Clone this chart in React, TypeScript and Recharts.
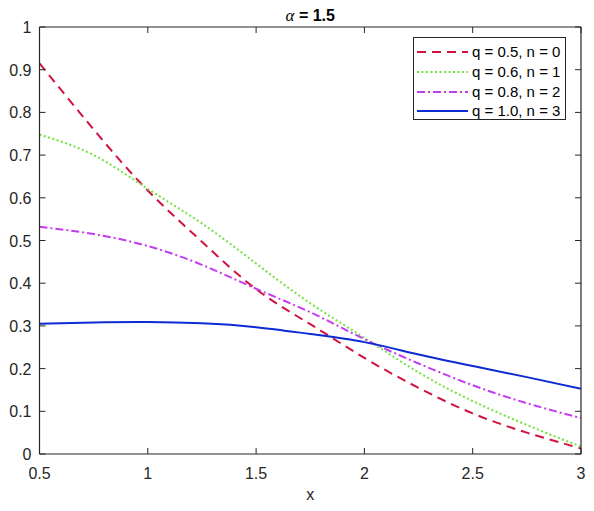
import React from 'react';
import { LineChart, Line, XAxis, YAxis, Legend, Label } from 'recharts';

const X_VALUES = [0.5, 0.75, 1, 1.25, 1.5, 1.75, 2, 2.25, 2.5, 2.75, 3];
const Q05_N0 = [0.915, 0.76, 0.617, 0.497, 0.386, 0.304, 0.225, 0.155, 0.095, 0.05, 0.013];
const Q06_N1 = [0.748, 0.7, 0.621, 0.54, 0.446, 0.353, 0.272, 0.191, 0.124, 0.068, 0.017];
const Q08_N2 = [0.532, 0.515, 0.487, 0.443, 0.387, 0.332, 0.269, 0.212, 0.161, 0.119, 0.084];
const Q10_N3 = [0.305, 0.308, 0.309, 0.306, 0.297, 0.281, 0.262, 0.233, 0.206, 0.18, 0.153];

const SERIES_NAMES = ['q = 0.5, n = 0', 'q = 0.6, n = 1', 'q = 0.8, n = 2', 'q = 1.0, n = 3'];
const SERIES_KEYS = ['s0', 's1', 's2', 's3'];

const X_TICKS = [0.5, 1, 1.5, 2, 2.5, 3];
const Y_TICKS = [0, 0.1, 0.2, 0.3, 0.4, 0.5, 0.6, 0.7, 0.8, 0.9, 1];

const TITLE_SYMBOL = 'α';
const TITLE_REST = ' = 1.5';
const X_LABEL = 'x';

const data = X_VALUES.map((x, i) => ({
  x,
  s0: Q05_N0[i],
  s1: Q06_N1[i],
  s2: Q08_N2[i],
  s3: Q10_N3[i],
}));

const STYLES = [
  { color: '#d2123f', dash: '9 6', width: 2 },
  { color: '#6fe43c', dash: '2 2.5', width: 2 },
  { color: '#c43cf0', dash: '8 3 2 3', width: 2 },
  { color: '#0d2bd2', dash: undefined as string | undefined, width: 2 },
];

const FONT = '"Liberation Sans", Arial, Helvetica, sans-serif';
const TICK_FS = 16;
const TL = 6;
const AX = '#262626';
const AXIS_LINE = { stroke: AX, strokeWidth: 1.2 };

const fmt = (v: number) => String(Math.round(v * 10) / 10);

const BottomTick = (p: any) => {
  const { x, y, payload } = p;
  return (
    <g>
      <line x1={x} y1={y} x2={x} y2={y - TL} stroke={AX} strokeWidth={1} />
      <text x={x} y={y + 25} textAnchor="middle" fontFamily={FONT} fontSize={TICK_FS} fill={AX}>
        {fmt(payload.value)}
      </text>
    </g>
  );
};

const TopTick = (p: any) => {
  const { x, y } = p;
  return <line x1={x} y1={y} x2={x} y2={y + TL} stroke={AX} strokeWidth={1} />;
};

const LeftTick = (p: any) => {
  const { x, y, payload } = p;
  return (
    <g>
      <line x1={x} y1={y} x2={x + TL} y2={y} stroke={AX} strokeWidth={1} />
      <text x={x - 8} y={y + 6} textAnchor="end" fontFamily={FONT} fontSize={TICK_FS} fill={AX}>
        {fmt(payload.value)}
      </text>
    </g>
  );
};

const RightTick = (p: any) => {
  const { x, y } = p;
  return <line x1={x} y1={y} x2={x - TL} y2={y} stroke={AX} strokeWidth={1} />;
};

const LegendBox = () => {
  const w = 153;
  const h = 83;
  const rows = [15, 35, 55, 74];
  return (
    <svg width={w} height={h} style={{ display: 'block' }}>
      <rect x={0.5} y={0.5} width={w - 1} height={h - 1} fill="#fff" stroke={AX} strokeWidth={1} />
      {SERIES_NAMES.map((name, i) => (
        <g key={name}>
          <line
            x1={4}
            x2={55}
            y1={rows[i]}
            y2={rows[i]}
            stroke={STYLES[i].color}
            strokeWidth={STYLES[i].width}
            strokeDasharray={STYLES[i].dash}
          />
          <text x={59} y={rows[i] + 5} fontFamily={FONT} fontSize={15} fill="#000">
            {name}
          </text>
        </g>
      ))}
    </svg>
  );
};

const TitleLabel = (p: any) => {
  const vb = p.viewBox || {};
  const cx = (vb.x ?? 39.5) + (vb.width ?? 541.5) / 2;
  return (
    <text x={cx} y={21} textAnchor="middle" fontFamily={FONT} fontSize={16} fontWeight="bold" fill="#000">
      <tspan fontStyle="italic" fontWeight="normal" fontFamily='"Liberation Serif", "DejaVu Serif", serif' fontSize={17}>
        {TITLE_SYMBOL}
      </tspan>
      <tspan>{TITLE_REST}</tspan>
    </text>
  );
};

const XLabel = (p: any) => {
  const vb = p.viewBox || {};
  const cx = (vb.x ?? 39.5) + (vb.width ?? 541.5) / 2;
  return (
    <text x={cx} y={500} textAnchor="middle" fontFamily={FONT} fontSize={16} fill={AX}>
      {X_LABEL}
    </text>
  );
};

export default function App() {
  return (
    <div style={{ position: 'absolute', left: 0, top: 0, width: 594, height: 511, background: '#fff' }}>
      <LineChart
        width={594}
        height={511}
        data={data}
        margin={{ top: 26, right: 12, bottom: 56, left: 38.5 }}
      >
        <XAxis
          xAxisId="bottom"
          dataKey="x"
          type="number"
          domain={[0.5, 3]}
          ticks={X_TICKS}
          interval={0}
          height={1}
          tickSize={0}
          tickMargin={0}
          axisLine={AXIS_LINE}
          tickLine={false}
          tick={(p: any) => <BottomTick {...p} />}
          allowDataOverflow
        >
          <Label content={(p: any) => <XLabel {...p} />} />
        </XAxis>
        <XAxis
          xAxisId="top"
          orientation="top"
          dataKey="x"
          type="number"
          domain={[0.5, 3]}
          ticks={X_TICKS}
          interval={0}
          height={1}
          tickSize={0}
          tickMargin={0}
          axisLine={AXIS_LINE}
          tickLine={false}
          tick={(p: any) => <TopTick {...p} />}
          allowDataOverflow
        >
          <Label content={(p: any) => <TitleLabel {...p} />} />
        </XAxis>
        <YAxis
          yAxisId="left"
          type="number"
          domain={[0, 1]}
          ticks={Y_TICKS}
          interval={0}
          width={1}
          tickSize={0}
          tickMargin={0}
          axisLine={AXIS_LINE}
          tickLine={false}
          tick={(p: any) => <LeftTick {...p} />}
          allowDataOverflow
        />
        <YAxis
          yAxisId="right"
          orientation="right"
          type="number"
          domain={[0, 1]}
          ticks={Y_TICKS}
          interval={0}
          width={1}
          tickSize={0}
          tickMargin={0}
          axisLine={AXIS_LINE}
          tickLine={false}
          tick={(p: any) => <RightTick {...p} />}
          allowDataOverflow
        />
        {SERIES_KEYS.map((k, i) => (
          <Line
            key={k}
            xAxisId="bottom"
            yAxisId="left"
            dataKey={k}
            name={SERIES_NAMES[i]}
            type="natural"
            stroke={STYLES[i].color}
            strokeWidth={STYLES[i].width}
            strokeDasharray={STYLES[i].dash}
            dot={false}
            activeDot={false}
            isAnimationActive={false}
          />
        ))}
        <Legend
          layout="vertical"
          align="center"
          verticalAlign="middle"
          content={() => <LegendBox />}
          wrapperStyle={{ position: 'absolute', left: 413, top: 37, width: 153, height: 83 }}
        />
      </LineChart>
    </div>
  );
}
